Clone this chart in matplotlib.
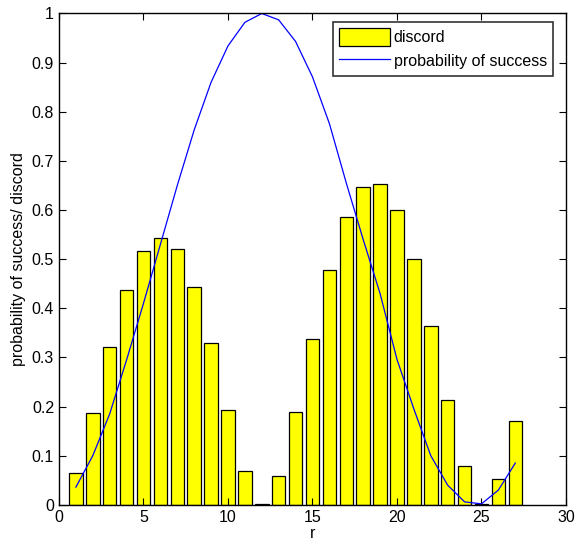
import numpy as np
import matplotlib.pyplot as plt

## --- data ---
r = np.arange(1, 28)
discord = [0.064, 0.186, 0.321, 0.437, 0.517, 0.544, 0.520, 0.444, 0.329,
           0.194, 0.069, 0.001, 0.059, 0.188, 0.338, 0.478, 0.586, 0.647,
           0.653, 0.601, 0.500, 0.364, 0.213, 0.079, 0.002, 0.052, 0.171]
p_success = [0.036, 0.100, 0.185, 0.295, 0.410, 0.530, 0.650, 0.763, 0.860,
             0.934, 0.982, 1.000, 0.987, 0.943, 0.871, 0.776, 0.655, 0.540,
             0.430, 0.296, 0.195, 0.100, 0.040, 0.006, 0.002, 0.030, 0.085]

plt.rcParams['font.family'] = ['Liberation Sans', 'DejaVu Sans']

fig = plt.figure(figsize=(5.76, 5.55), dpi=100)
ax = fig.add_axes([0.1024, 0.0904, 0.8802, 0.8853])

bars = ax.bar(r, discord, width=0.8, color='#ffff00', edgecolor='black',
              linewidth=0.9, label='discord')
line, = ax.plot(r, p_success, color='#0000ff', linewidth=0.9,
                label='probability of success')

ax.set_xlim(0, 30)
ax.set_ylim(0, 1)
ax.set_xticks(np.arange(0, 31, 5))
ax.set_yticks(np.arange(0, 1.01, 0.1))
ax.set_yticklabels(['0', '0.1', '0.2', '0.3', '0.4', '0.5', '0.6', '0.7',
                    '0.8', '0.9', '1'])
ax.tick_params(direction='in', top=True, right=True, length=5,
               labelsize=11.5, width=0.8)
for s in ax.spines.values():
    s.set_linewidth(1.0)

ax.set_xlabel('r', fontsize=11.5, labelpad=1)
ax.set_ylabel('probability of success/ discord', fontsize=11.5, labelpad=4)

leg = ax.legend([bars, line], ['discord', 'probability of success'],
                loc='upper right', fontsize=11.5, frameon=True, fancybox=False,
                edgecolor='black', borderpad=0.4, handlelength=3.2,
                handleheight=1.3, handletextpad=0.2, labelspacing=0.4,
                borderaxespad=0, bbox_to_anchor=(0.975, 0.983))
leg.get_frame().set_linewidth(1.2)

plt.savefig('out.png', dpi=100)
